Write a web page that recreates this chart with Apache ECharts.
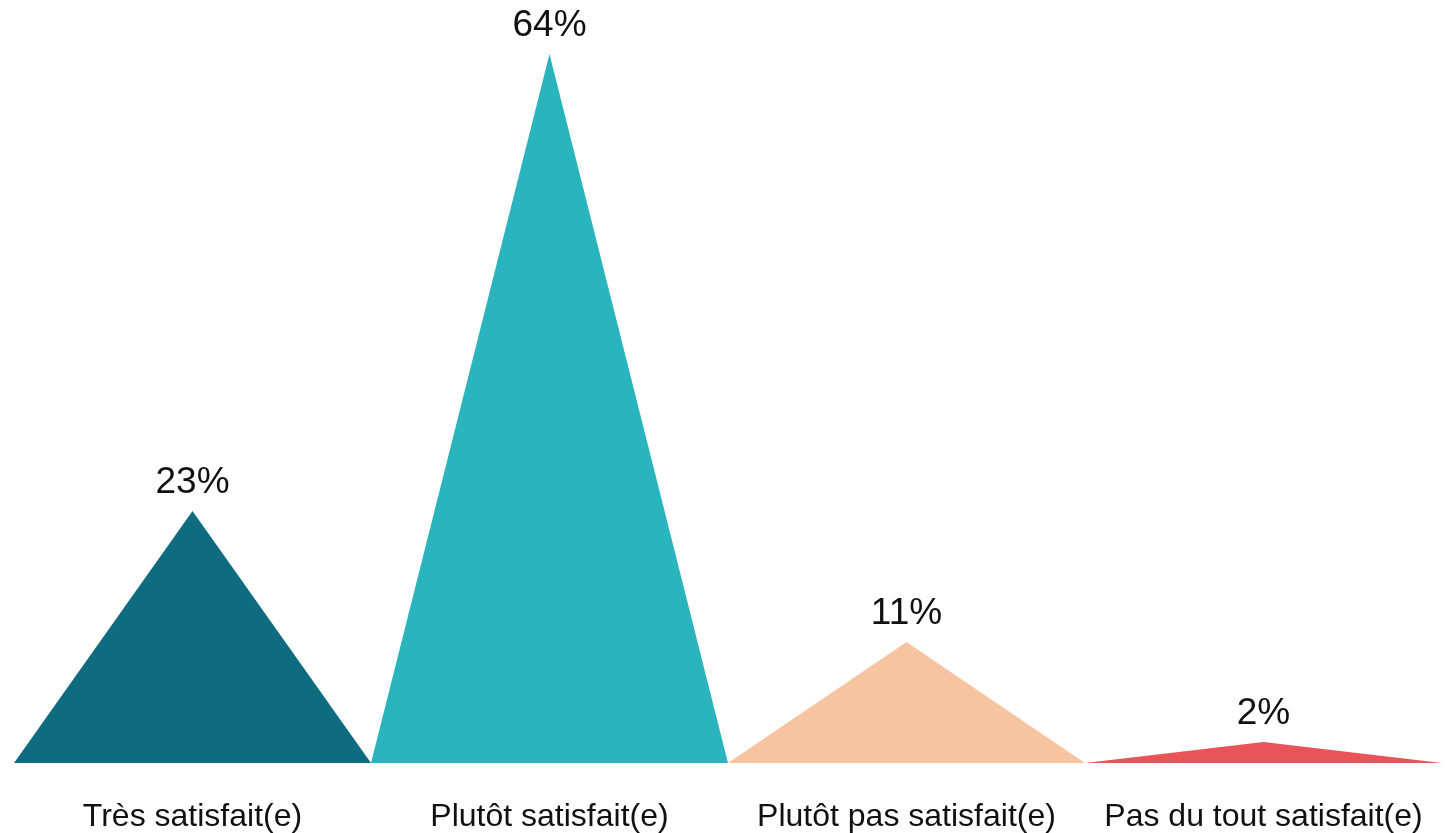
<!DOCTYPE html>
<html>
<head>
<meta charset="utf-8">
<script src="https://cdn.jsdelivr.net/npm/echarts@6/dist/echarts.min.js"></script>
<style>
  html, body { margin: 0; padding: 0; background: #fff; }
  #chart { width: 1455px; height: 833px; }
</style>
</head>
<body>
<div id="chart"></div>
<script>
var categories = ['Très satisfait(e)', 'Plutôt satisfait(e)', 'Plutôt pas satisfait(e)', 'Pas du tout satisfait(e)'];
var values = [22.9, 64.4, 11.0, 1.9];
var colors = ['#0e6b80', '#2ab5be', '#f7c4a2', '#e8545a'];

var chart = echarts.init(document.getElementById('chart'));
chart.setOption({
  animation: false,
  grid: { left: 14, right: 13, top: 54, bottom: 70 },
  xAxis: {
    type: 'category',
    data: categories,
    axisLine: { show: false },
    axisTick: { show: false },
    axisLabel: {
      interval: 0,
      color: '#111',
      fontSize: 32,
      fontFamily: 'Liberation Sans, Arial, sans-serif',
      margin: 38
    }
  },
  yAxis: {
    type: 'value',
    min: 0,
    max: 64.4,
    show: false
  },
  series: [{
    type: 'pictorialBar',
    symbol: 'triangle',
    symbolSize: ['100%', '100%'],
    barCategoryGap: '0%',
    data: values.map(function (v, i) {
      return { value: v, itemStyle: { color: colors[i] } };
    }),
    label: {
      show: true,
      position: 'top',
      distance: 10,
      formatter: function (p) { return Math.round(p.value) + '%'; },
      color: '#111',
      fontSize: 37,
      fontFamily: 'Liberation Sans, Arial, sans-serif'
    }
  }]
});
</script>
</body>
</html>
